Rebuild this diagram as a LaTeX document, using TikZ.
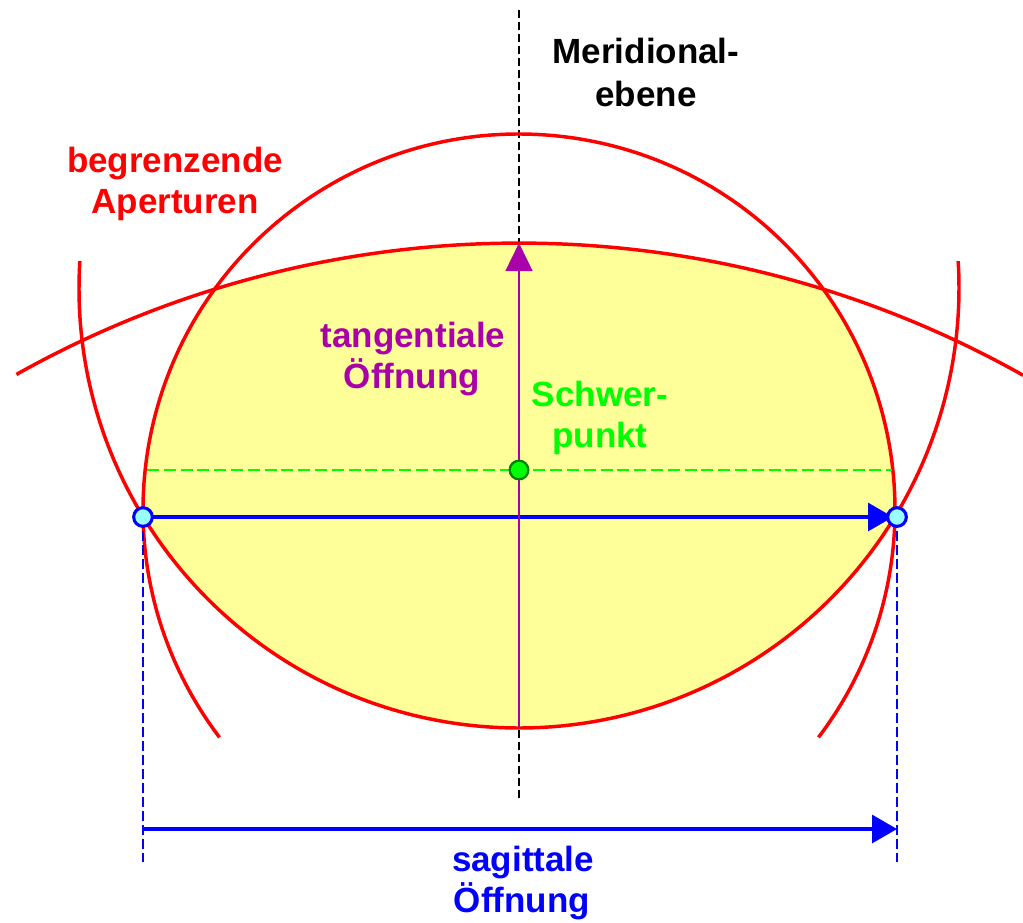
\documentclass[tikz,border=0pt]{standalone}
\usepackage{fontspec}
\setmainfont{Liberation Sans}
\usetikzlibrary{arrows.meta}
\definecolor{apred}{RGB}{255,0,0}
\definecolor{fillyel}{RGB}{255,255,153}
\definecolor{tanpurple}{RGB}{170,0,170}
\definecolor{sagblue}{RGB}{0,0,255}
\definecolor{cgreen}{RGB}{0,255,0}
\definecolor{cgreendark}{RGB}{0,130,0}
\definecolor{dotcyan}{RGB}{153,255,255}
\begin{document}
\begin{tikzpicture}[x=0.75pt,y=-0.75pt,
  aperture/.style={draw=apred,line width=2.6pt},
  lbl/.style={font=\fontsize{26.25pt}{31.5pt}\selectfont\bfseries,inner sep=0pt,anchor=base},
  meridian/.style={draw=black,line width=1.7pt,dash pattern=on 6pt off 3pt},
  gdash/.style={draw=cgreen,line width=2.2pt,dash pattern=on 9pt off 3.6pt},
  bdash/.style={draw=sagblue,line width=2.2pt,dash pattern=on 7.5pt off 3pt},
  barrow/.style={draw=sagblue,line width=2.4pt,-{Triangle[length=18.75pt,width=21pt]}},
  parrow/.style={draw=tanpurple,line width=2pt,-{Triangle[length=21pt,width=20pt]}},
  cdot/.style={circle,draw=sagblue,fill=dotcyan,line width=2.3pt,minimum size=14pt,inner sep=0pt},
  gdot/.style={circle,draw=cgreendark,fill=cgreen,line width=1.7pt,minimum size=14pt,inner sep=0pt}
]
\useasboundingbox (0,0) rectangle (1023,922);

% coordinates
\coordinate (mTop) at (519,10);
\coordinate (mBot) at (519,800);
\coordinate (pL) at (143,517);
\coordinate (pR) at (897,517);
\coordinate (pRtip) at (893,517);
\coordinate (sp) at (519,470);
\coordinate (gL) at (147,470);
\coordinate (gR) at (892,470);
\coordinate (tBot) at (519,728);
\coordinate (tTop) at (519,243);
\coordinate (dL) at (143,862);
\coordinate (dR) at (897,862);
\coordinate (aL) at (143,829);
\coordinate (aR) at (897,829);

% yellow aperture region: intersection of three circles
\begin{scope}
  \clip (519,510) circle[radius=376];
  \clip (519,288) circle[radius=440];
  \fill[fillyel] (519,1270) circle[radius=1027];
\end{scope}

% meridional plane
\draw[meridian] (mTop) -- (mBot);

% limiting apertures
\draw[aperture] (519,510) ++(142.8:376) arc[start angle=142.8, end angle=397.2, radius=376];
\draw[aperture] (519,288) ++(183.5:440) arc[start angle=183.5, end angle=-3.5, radius=440];
\draw[aperture] (519,1270) ++(240.7:1027) arc[start angle=240.7, end angle=299.4, radius=1027];

% centroid line
\draw[gdash] (gL) -- (gR);

% sagittal
\draw[bdash] (pL) -- (dL);
\draw[bdash] (pR) -- (dR);
\draw[barrow] (pL) -- (pRtip);
\draw[barrow] (aL) -- (aR);

% tangential
\draw[parrow] (tBot) -- (tTop);

% points
\node[cdot] (pLdot) at (pL) {};
\node[cdot] (pRdot) at (pR) {};
\node[gdot] (spdot) at (sp) {};

% labels
\node[lbl,text=black] (mer1) at (646,63) {Meridional-};
\node[lbl,text=black] (mer2) at (646,106) {ebene};
\node[lbl,text=apred] (beg1) at (175,172) {begrenzende};
\node[lbl,text=apred] (beg2) at (175,213) {Aperturen};
\node[lbl,text=tanpurple] (tan1) at (413,347) {tangentiale};
\node[lbl,text=tanpurple] (tan2) at (412,388) {Öffnung};
\node[lbl,text=cgreen] (sch1) at (600,406) {Schwer-};
\node[lbl,text=cgreen] (sch2) at (600,447) {punkt};
\node[lbl,text=sagblue] (sag1) at (523,871) {sagittale};
\node[lbl,text=sagblue] (sag2) at (522,912) {Öffnung};
\end{tikzpicture}
\end{document}
